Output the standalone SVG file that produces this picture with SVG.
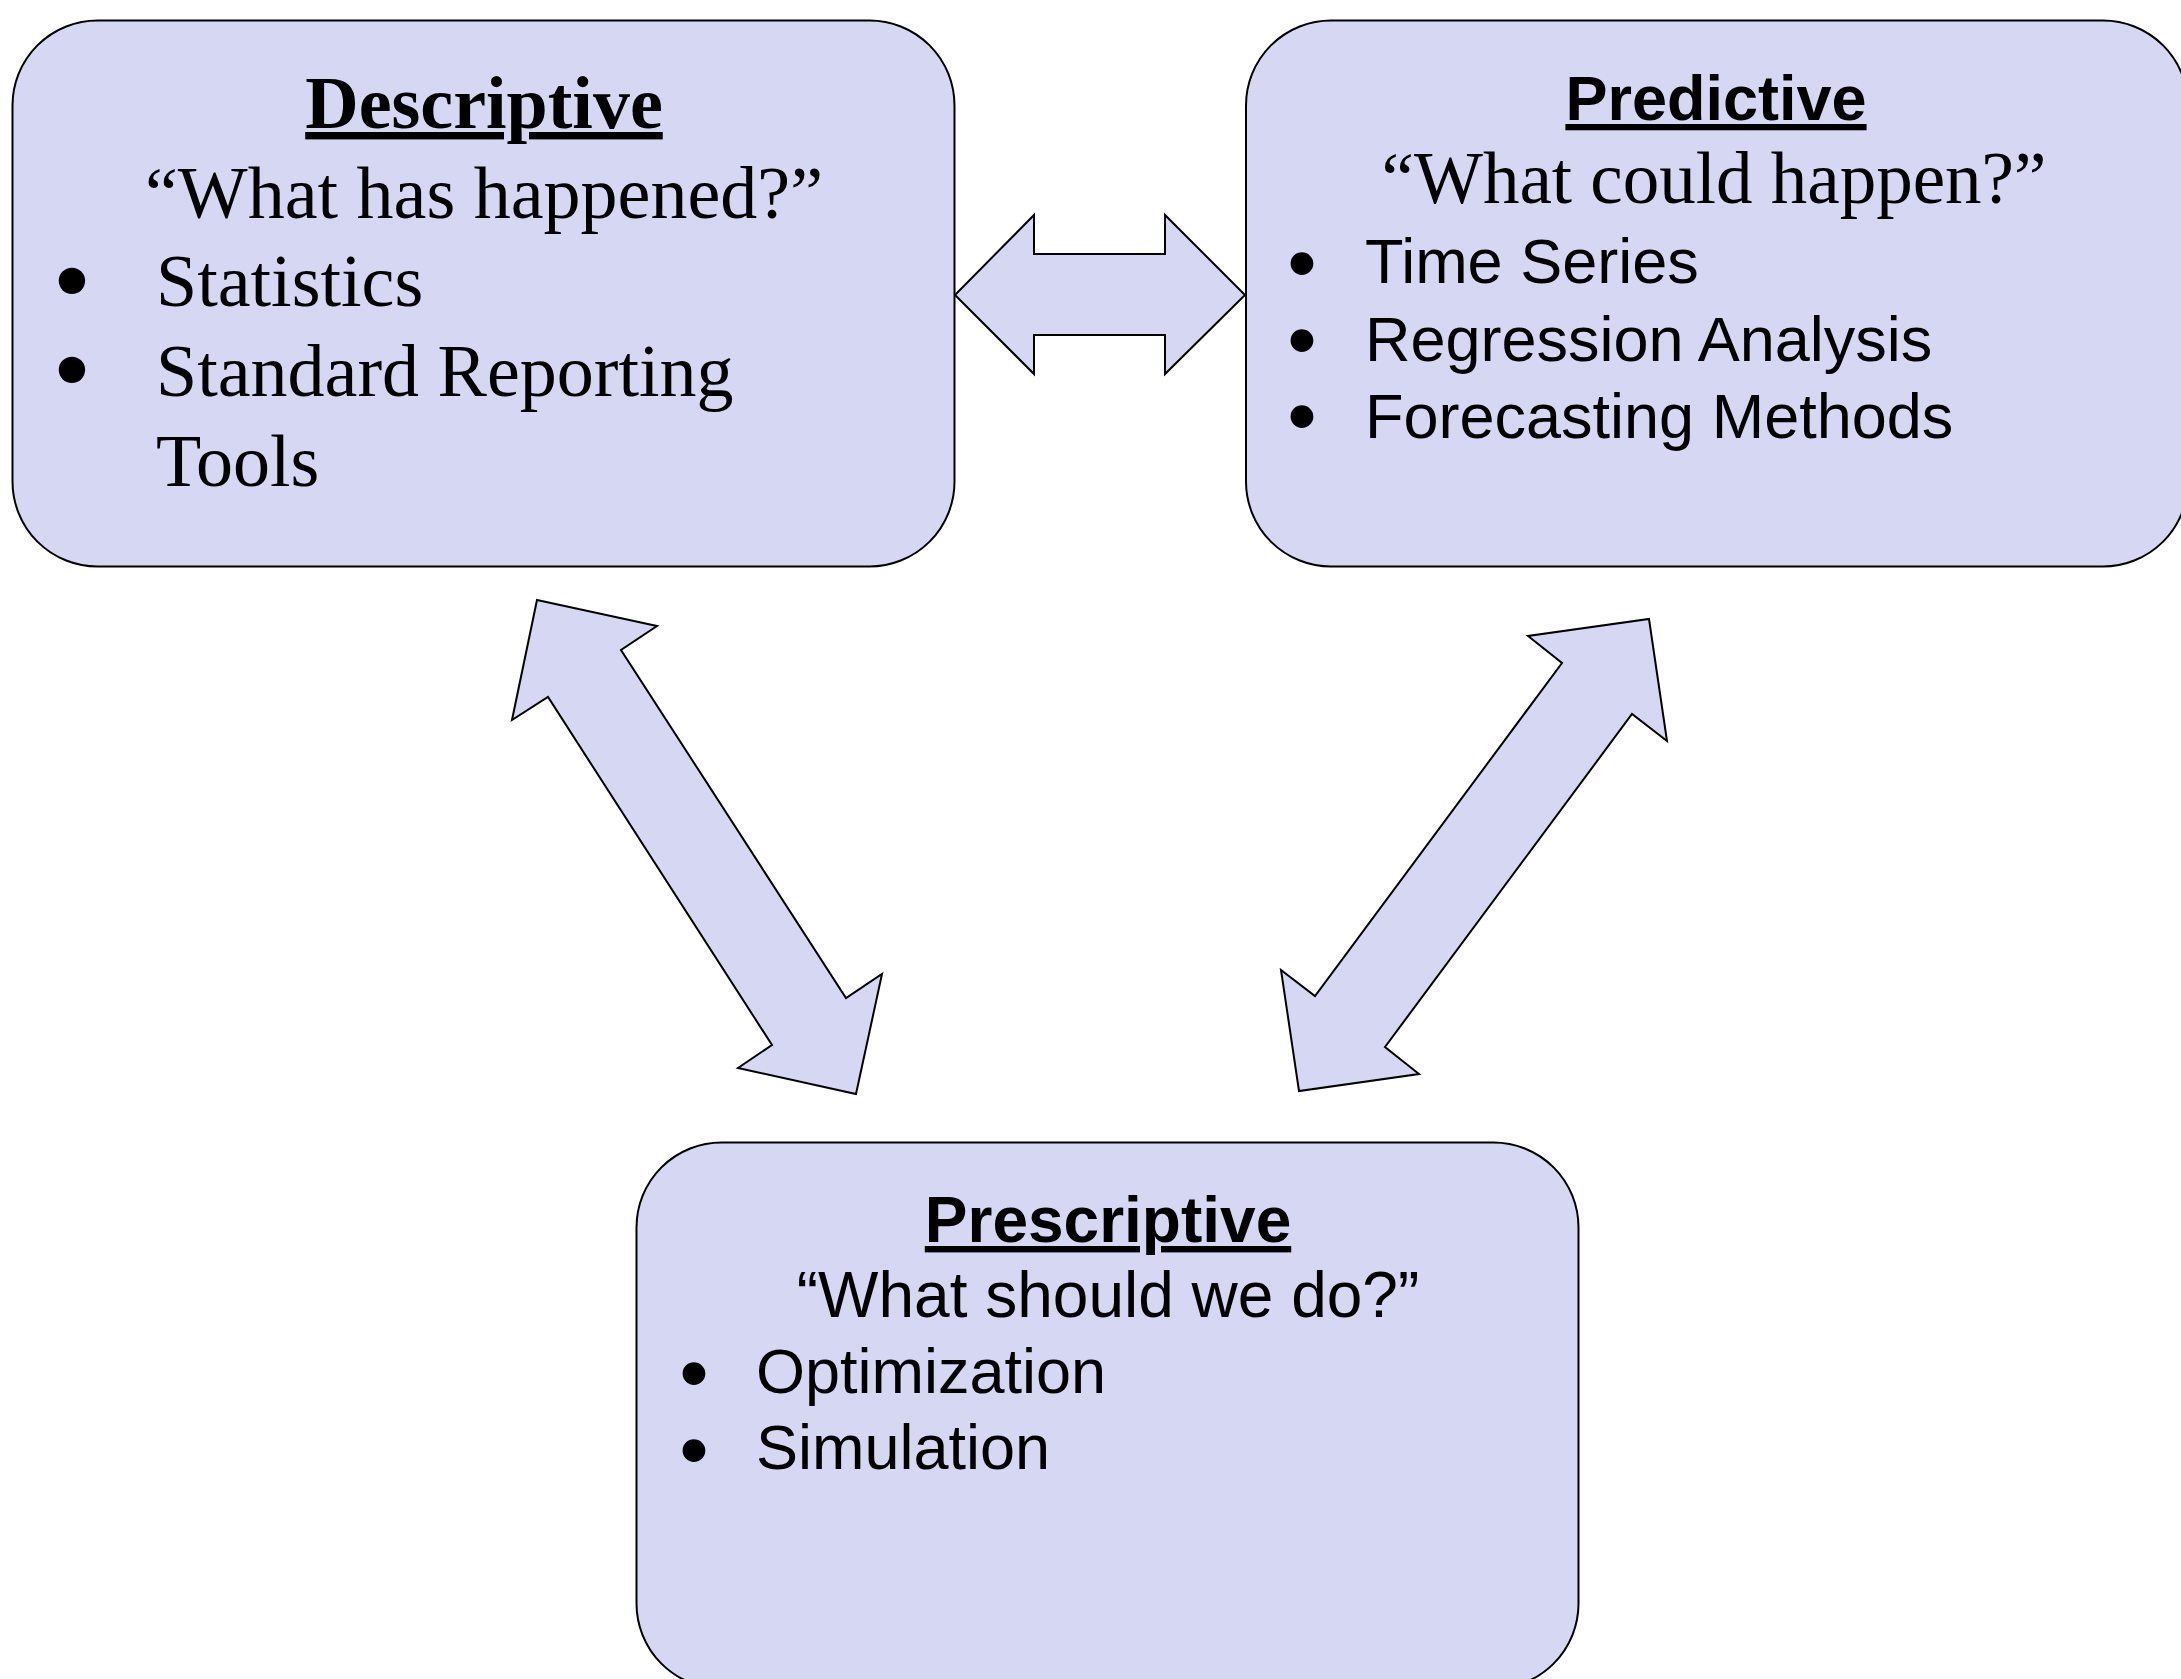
<svg xmlns="http://www.w3.org/2000/svg" width="2181" height="1679" viewBox="0 0 2181 1679">
<style>
.box{fill:#D6D7F3;stroke:#000;stroke-width:2}
.arrow{fill:#D6D7F3;stroke:#000;stroke-width:2;stroke-linejoin:miter}
.serif{font-family:"Liberation Serif","Times New Roman",serif;font-size:74px;fill:#000}
.sans{font-family:"Liberation Sans",Arial,sans-serif;font-size:63px;fill:#000}
.title{font-weight:bold;text-decoration:underline;text-anchor:middle}
.mid{text-anchor:middle}
.sb{font-family:"Liberation Serif","Times New Roman",serif;font-size:111px;text-anchor:middle;fill:#000}
.ab{font-family:"Liberation Sans",Arial,sans-serif;font-size:84px;text-anchor:middle;fill:#000}
</style>
<rect width="2181" height="1679" fill="#fff"/>
<g id="connectors">
<polygon class="arrow" points="955,295 1034,215 1034,254 1165,254 1165,215 1245,295 1165,374 1165,335 1034,335 1034,374"/>
<polygon class="arrow" points="537,600 657,626 621,650 846,998 882,974 856,1094 738,1068 772,1045 548,697 512,720"/>
<polygon class="arrow" points="1649,619 1667,741 1632,714 1385,1047 1419,1074 1299,1091 1281,970 1315,996 1562,663 1528,636"/>
</g>
<g id="descriptive">
<rect class="box" x="12.5" y="20.5" width="942" height="546" rx="85" ry="85"/>
<text class="serif title" x="484" y="128">Descriptive</text>
<text class="serif mid" x="484" y="218">“What has happened?”</text>
<text class="sb" x="72" y="317">•</text>
<text class="serif" x="156" y="306">Statistics</text>
<text class="sb" x="72" y="406">•</text>
<text class="serif" x="156" y="396">Standard Reporting</text>
<text class="serif" x="156" y="486">Tools</text>
</g>
<g id="predictive">
<rect class="box" x="1246" y="20.5" width="942" height="546" rx="85" ry="85"/>
<text class="sans title" x="1716" y="120">Predictive</text>
<text class="serif mid" x="1714" y="203" style="font-size:73px">“What could happen?”</text>
<text class="ab" x="1302" y="291">•</text>
<text class="sans" x="1365" y="283">Time Series</text>
<text class="ab" x="1302" y="368">•</text>
<text class="sans" x="1365" y="361">Regression Analysis</text>
<text class="ab" x="1302" y="444">•</text>
<text class="sans" x="1365" y="438">Forecasting Methods</text>
</g>
<g id="prescriptive">
<rect class="box" x="636.5" y="1142.5" width="942" height="546" rx="85" ry="85"/>
<text class="sans title" x="1108" y="1242" style="font-size:64px">Prescriptive</text>
<text class="sans mid" x="1108" y="1317" style="font-size:64px">“What should we do?”</text>
<text class="ab" x="694" y="1401">•</text>
<text class="sans" x="756" y="1393">Optimization</text>
<text class="ab" x="694" y="1478">•</text>
<text class="sans" x="756" y="1469">Simulation</text>
</g>
</svg>
